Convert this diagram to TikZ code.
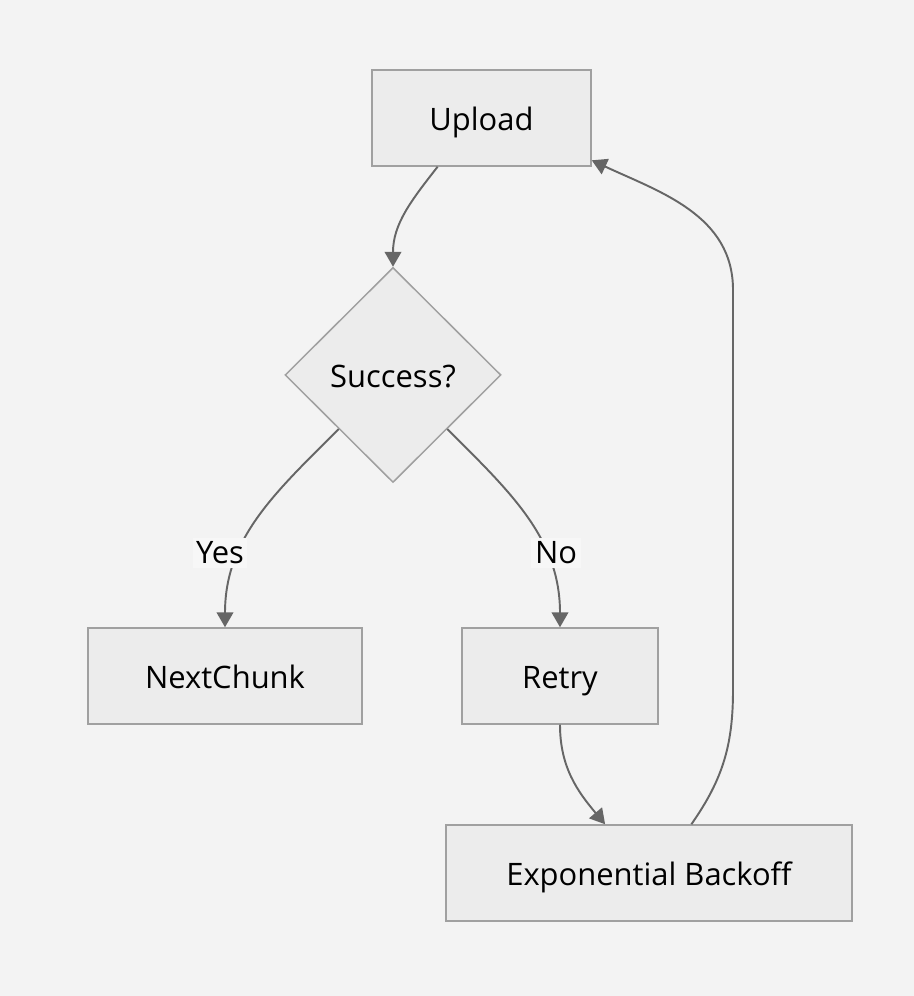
\documentclass[tikz,border=0pt]{standalone}
\usepackage{fontspec}
\setmainfont{Open Sans}
\usetikzlibrary{shapes.geometric, arrows.meta}
\definecolor{canvas}{RGB}{243,243,243}
\definecolor{boxfill}{RGB}{236,236,236}
\definecolor{boxline}{RGB}{160,160,160}
\definecolor{flow}{RGB}{102,102,102}
\definecolor{tagfill}{RGB}{247,247,247}

\begin{document}
\begin{tikzpicture}[
  font=\fontsize{17.6}{21}\selectfont,
  stepbox/.style={draw=boxline, fill=boxfill, line width=0.85pt, minimum height=1.92cm, inner sep=0pt, text height=14.5pt, text depth=0pt},
  choice/.style={diamond, aspect=1, draw=boxline, fill=boxfill, line width=0.85pt, minimum width=4.32cm, minimum height=4.30cm, inner sep=0pt, text height=14.5pt, text depth=0pt},
  flowline/.style={draw=flow, line width=1.1pt, -{Triangle[length=8.5pt, width=9.5pt]}},
  tag/.style={fill=tagfill, inner sep=2pt}
]
% ---- background / frame ----
\fill[canvas] (0,0) rectangle (18.28,19.92);
\useasboundingbox (0,0) rectangle (18.28,19.92);

% ---- nodes ----
\node[stepbox, minimum width=4.38cm] (upload) at (9.63,17.56) {Upload};
\node[choice] (success) at (7.86,12.42) {Success?};
\node[stepbox, minimum width=5.48cm] (next) at (4.50,6.40) {NextChunk};
\node[stepbox, minimum width=3.92cm] (retry) at (11.20,6.40) {Retry};
\node[stepbox, minimum width=8.12cm] (backoff) at (12.98,2.46) {Exponential Backoff};

% bends of the loop back
\coordinate (loopA) at (14.66,6.12);
\coordinate (loopB) at (14.66,14.12);

% ---- connectors ----
\draw[flowline] (upload.-132) to[out=-128, in=90] (success.north);
\draw[flowline] (success.south west) to[out=-135, in=90] (next.north);
\draw[flowline] (success.south east) to[out=-45, in=90] (retry.north);
\draw[flowline] (retry.south) to[out=-90, in=130] (backoff.132.5);
\draw[flowline] (backoff.49.5) to[out=55, in=-90] (loopA) -- (loopB) to[out=90, in=-25] (upload.-21);

% edge labels
\node[tag] (yes) at (4.40,8.86) {Yes};
\node[tag] (no) at (11.12,8.86) {No};
\end{tikzpicture}
\end{document}
